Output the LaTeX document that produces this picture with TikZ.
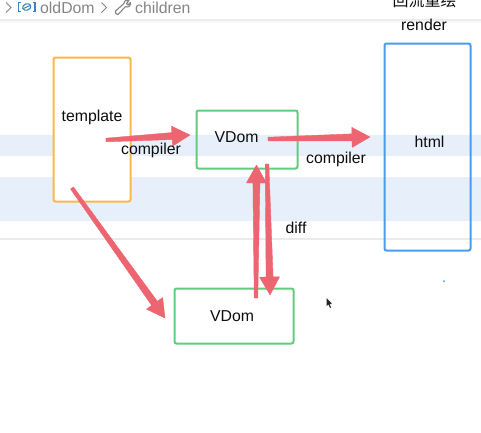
\documentclass[tikz,border=0pt]{standalone}
\usepackage{fontspec}
\setmainfont{Liberation Sans}
\newfontfamily\cjk{Noto Sans CJK SC}
\usetikzlibrary{calc}
\definecolor{bandblue}{HTML}{E7EFFB}
\definecolor{rulegray}{HTML}{EBEBEB}
\definecolor{crumbgray}{HTML}{858585}
\definecolor{iconblue}{HTML}{3B84C4}
\definecolor{boxorange}{HTML}{F9B84D}
\definecolor{boxgreen}{HTML}{62CC7C}
\definecolor{boxblue}{HTML}{4A9CEB}
\definecolor{arrowred}{HTML}{EE6572}
\tikzset{
  box/.style={draw,rounded corners=2pt,line width=2pt,inner sep=0pt},
  txt/.style={inner sep=0pt,font=\fontsize{15.8}{18}\selectfont,text=black!95},
  crumb/.style={inner sep=0pt,font=\fontsize{15.8}{18}\selectfont,text=crumbgray},
  band/.style={fill=bandblue,draw=none},
  flow/.style={fill=arrowred,draw=arrowred,line width=0.4pt,line join=round,to path={
    -- ($(\tikztostart)!1.8pt!-90:(\tikztotarget)$)
    -- ($($(\tikztotarget)!18pt!(\tikztostart)$)!3.5pt!-90:(\tikztotarget)$)
    -- ($($(\tikztotarget)!18pt!(\tikztostart)$)!10pt!-90:(\tikztotarget)$)
    -- (\tikztotarget)
    -- ($($(\tikztotarget)!18pt!(\tikztostart)$)!10pt!90:(\tikztotarget)$)
    -- ($($(\tikztotarget)!18pt!(\tikztostart)$)!3.5pt!90:(\tikztotarget)$)
    -- ($(\tikztostart)!1.8pt!90:(\tikztotarget)$)
    -- cycle}}
}
\begin{document}
\begin{tikzpicture}[x=1pt,y=-1pt]
  \useasboundingbox (0,0) rectangle (481,432);
  \clip (0,0) rectangle (481,432);
  \shade[top color=black!8,bottom color=white] (0,19) rectangle (481,23);
  \path[band] (0,135) rectangle (481,156);
  \path[band] (0,177) rectangle (481,221);
  \draw[rulegray,line width=2pt] (0,238.5) -- (481,238.5);

  \draw[crumbgray,line width=1pt] (6,2.5) -- (11,7.5) -- (6,12.5);
  \draw[crumbgray,line width=1pt] (101.5,2.5) -- (106.5,7.5) -- (101.5,12.5);
  \draw[iconblue,line width=1.1pt] (21,2.5) -- (18.5,2.5) -- (18.5,11.5) -- (21,11.5);
  \draw[iconblue,line width=1.1pt] (32.5,2.5) -- (35,2.5) -- (35,11.5) -- (32.5,11.5);
  \draw[iconblue,line width=1.1pt,rotate around={20:(26.7,7)}] (26.7,7) ellipse (4.2 and 3.2);
  \draw[iconblue,line width=1pt] (23.5,8.5) -- (30,5.5);
  \draw[crumbgray,line width=1.1pt,line join=round]
    (115.5,11) -- (124,3.5) .. controls (124,0.5) and (127,-0.5) .. (129,0.5)
    -- (126.5,3.5) -- (128,5) -- (130.5,2.5) .. controls (131,6) and (128,8) .. (125.5,6.5)
    -- (118,14.5) .. controls (116.5,15) and (114.5,13) .. (115.5,11) -- cycle;
  \node[crumb,anchor=west] (olddom) at (40,7.5) {oldDom};
  \node[crumb,anchor=west] (children) at (135,7.5) {children};

  \node[box,draw=boxorange,fill=white,minimum width=77pt,minimum height=144pt] (template) at (92,129.5) {};
  \node[box,draw=boxgreen,minimum width=101pt,minimum height=58pt] (vdomtop) at (247,139.5) {};
  \node[box,draw=boxblue,minimum width=86pt,minimum height=207pt] (html) at (427.5,147) {};
  \node[box,draw=boxgreen,minimum width=119pt,minimum height=55pt] (vdombottom) at (234,316) {};

  \coordinate (a1) at (106,140);
  \coordinate (b1) at (190,135);
  \coordinate (a2) at (268,139);
  \coordinate (b2) at (370,137);
  \coordinate (a3) at (72,188);
  \coordinate (b3) at (165,318);
  \coordinate (a4) at (256,298);
  \coordinate (b4) at (256.5,165);
  \coordinate (a5) at (267,164);
  \coordinate (b5) at (270,295);
  \path[flow] (a1) to (b1);
  \path[flow] (a2) to (b2);
  \path[flow] (a3) to (b3);
  \path[flow] (a4) to (b4);
  \path[flow] (a5) to (b5);

  \node[txt] (templatetext) at (92,117.5) {template};
  \node[txt] (compilerone) at (151,150.5) {compiler};
  \node[txt] (vdomtoptext) at (236.5,137) {VDom};
  \node[txt] (compilertwo) at (336,159.5) {compiler};
  \node[txt] (htmltext) at (429.5,142) {html};
  \node[txt] (difftext) at (296,228) {diff};
  \node[txt] (vdombottomtext) at (232,316) {VDom};
  \node[txt] (rendertext) at (424,25) {render};
  \node[txt,font=\cjk\fontsize{16}{18}\selectfont] (reflow) at (424.5,0.5) {回流重绘};

  \fill[boxblue] (444,281) circle (1);
  \fill[black!85] (326.5,298) -- (326.5,306) -- (328.5,304.5) -- (330,308) -- (331,307.5) -- (329.8,304) -- (332,303.5) -- cycle;
\end{tikzpicture}
\end{document}
